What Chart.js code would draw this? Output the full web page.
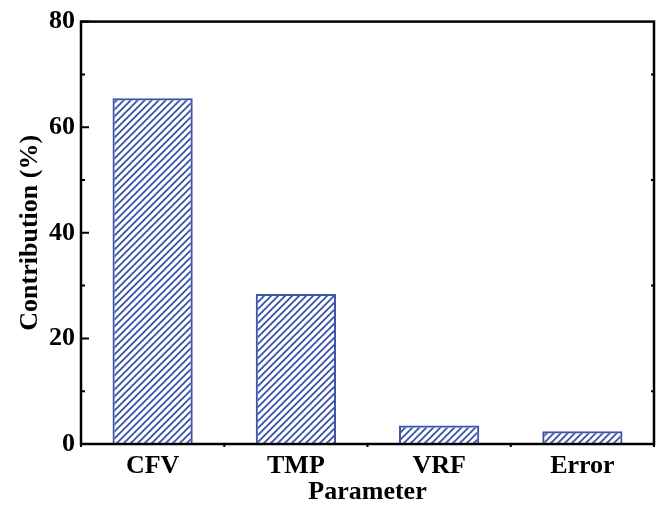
<!DOCTYPE html>
<html>
<head>
<meta charset="utf-8">
<script src="https://cdn.jsdelivr.net/npm/chart.js@4"></script>
<style>
  html, body { margin: 0; padding: 0; background: #fff; }
  #wrap { width: 657px; height: 505px; }
</style>
</head>
<body>
<div id="wrap"><canvas id="contributionChart"></canvas></div>
<script>
// data
const parameters = ['CFV', 'TMP', 'VRF', 'Error'];
const contribution = [65.5, 28.4, 3.5, 2.4];
const yTicks = [0, 20, 40, 60, 80];

const blue = 'rgb(60, 86, 170)';
const font = 'Liberation Serif, Times New Roman, serif';

// diagonal hatch tile
function makeHatch() {
    const size = 7;
    const c = document.createElement('canvas');
    c.width = size;
    c.height = size;
    const g = c.getContext('2d');
    g.strokeStyle = blue;
    g.lineWidth = 1.9;
    g.beginPath();
    g.moveTo(-1, size + 1);
    g.lineTo(size + 1, -1);
    g.moveTo(-1, 1);
    g.lineTo(1, -1);
    g.moveTo(size - 1, size + 1);
    g.lineTo(size + 1, size - 1);
    g.stroke();
    return g.createPattern(c, 'repeat');
}

// frame + inward ticks drawn from the chart's own scales
const framePlugin = {
    id: 'frame',
    afterDraw(chart) {
        const ctx = chart.ctx;
        const a = chart.chartArea;
        const y = chart.scales.y;
        const x = chart.scales.x;
        ctx.save();
        ctx.strokeStyle = '#000';
        ctx.lineWidth = 2.5;
        ctx.strokeRect(a.left, a.top, a.right - a.left, a.bottom - a.top);
        ctx.lineWidth = 2;
        ctx.beginPath();
        for (let v = 0; v <= 80; v += 10) {
            const py = y.getPixelForValue(v);
            const len = v % 20 === 0 ? 8 : 4;
            ctx.moveTo(a.left, py);
            ctx.lineTo(a.left + len, py);
            ctx.moveTo(a.right, py);
            ctx.lineTo(a.right - (v % 20 === 0 ? 0 : 3), py);
        }
        for (let i = 0; i <= parameters.length; i++) {
            const px = x.getPixelForValue(i - 0.5);
            ctx.moveTo(px, a.bottom);
            ctx.lineTo(px, a.bottom + 3);
        }
        ctx.stroke();
        ctx.restore();
    }
};

document.addEventListener('DOMContentLoaded', () => {
    const ctx = document.getElementById('contributionChart').getContext('2d');

    new Chart(ctx, {
        type: 'bar',
        data: {
            labels: parameters,
            datasets: [{
                label: 'Contribution',
                data: contribution,
                backgroundColor: makeHatch(),
                borderColor: blue,
                borderWidth: 2,
                categoryPercentage: 1,
                barPercentage: 0.56
            }]
        },
        options: {
            responsive: true,
            maintainAspectRatio: false,
            animation: false,
            layout: { padding: { top: 18, right: 3, left: 17, bottom: 0 } },
            plugins: {
                legend: { display: false },
                tooltip: { enabled: false }
            },
            scales: {
                x: {
                    grid: { display: false, drawTicks: false },
                    border: { display: false },
                    ticks: {
                        color: '#000',
                        padding: 9,
                        font: { family: font, size: 26, weight: 'bold', lineHeight: 1 }
                    },
                    title: {
                        display: true,
                        text: 'Parameter',
                        color: '#000',
                        padding: { top: -9, bottom: 0 },
                        font: { family: font, size: 26, weight: 'bold', lineHeight: 1 }
                    }
                },
                y: {
                    min: 0,
                    max: 80,
                    afterBuildTicks: scale => {
                        scale.ticks = yTicks.map(v => ({ value: v }));
                    },
                    grid: { display: false, drawTicks: false },
                    border: { display: false },
                    ticks: {
                        color: '#000',
                        padding: 6,
                        font: { family: font, size: 26, weight: 'bold' }
                    },
                    title: {
                        display: true,
                        text: 'Contribution (%)',
                        color: '#000',
                        padding: { top: 0, bottom: 0 },
                        font: { family: font, size: 26, weight: 'bold', lineHeight: 1 }
                    }
                }
            }
        },
        plugins: [framePlugin]
    });
});
</script>
</body>
</html>
